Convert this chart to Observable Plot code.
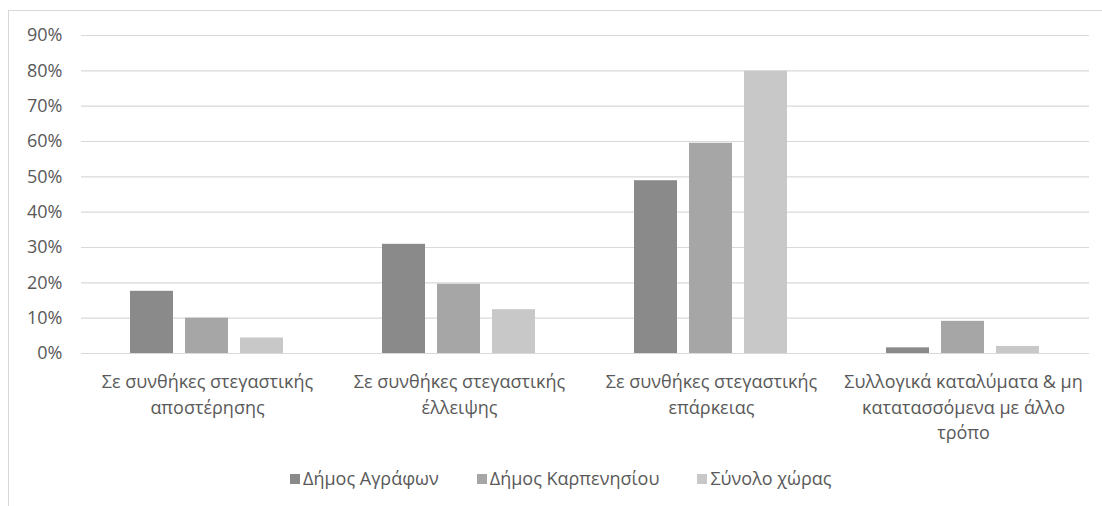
<!DOCTYPE html>
<html><head><meta charset="utf-8">
<script src="https://cdn.jsdelivr.net/npm/d3@7"></script>
<script src="https://cdn.jsdelivr.net/npm/@observablehq/plot@0.6"></script>
<style>
body{margin:0;background:#fff;width:1102px;height:506px;overflow:hidden;position:relative;font-family:"Open Sans","Noto Sans",sans-serif;color:#595959}
#frame{position:absolute;left:8px;top:10px;width:1110px;height:510px;border:1.5px solid #d9d9d9;box-sizing:border-box}
#chart{position:absolute;left:0;top:0}
#legend{position:absolute;left:290px;top:466px;font-size:18px;line-height:24px;display:flex;gap:38px;white-space:nowrap}
#legend span.sw{display:inline-block;width:10px;height:10px;margin-right:3px;vertical-align:1px}
</style></head>
<body>
<div id="frame"></div>
<div id="chart"></div>
<div id="legend"></div>
<script>
const categories = [
  "Σε συνθήκες στεγαστικής αποστέρησης",
  "Σε συνθήκες στεγαστικής έλλειψης",
  "Σε συνθήκες στεγαστικής επάρκειας",
  "Συλλογικά καταλύματα & μη κατατασσόμενα με άλλο τρόπο"
];
const categoryLines = [
  "Σε συνθήκες στεγαστικής\nαποστέρησης",
  "Σε συνθήκες στεγαστικής\nέλλειψης",
  "Σε συνθήκες στεγαστικής\nεπάρκειας",
  "Συλλογικά καταλύματα & μη\nκατατασσόμενα με άλλο\nτρόπο"
];
const series = ["Δήμος Αγράφων", "Δήμος Καρπενησίου", "Σύνολο χώρας"];
const agrafa = [0.176, 0.309, 0.489, 0.016];
const karpenisi = [0.100, 0.196, 0.595, 0.091];
const country = [0.044, 0.124, 0.799, 0.020];
const colors = ["#8a8a8a", "#a6a6a6", "#c8c8c8"];
const yTicks = [0, 0.1, 0.2, 0.3, 0.4, 0.5, 0.6, 0.7, 0.8, 0.9];

const values = [agrafa, karpenisi, country];
const data = [];
categories.forEach((c, i) => series.forEach((s, j) => data.push({category: c, series: s, value: values[j][i]})));
const labelMap = new Map(categories.map((c, i) => [c, categoryLines[i]]));

const chart = Plot.plot({
  width: 1102,
  height: 455,
  marginTop: 35,
  marginLeft: 80,
  marginRight: 12,
  marginBottom: 102,
  style: {fontFamily: '"Open Sans","Noto Sans",sans-serif', fontSize: "18px", color: "#595959", background: "transparent"},
  fx: {domain: categories, padding: 0, label: null},
  x: {domain: series, paddingInner: 0.214, paddingOuter: 0.86, axis: null},
  y: {domain: [0, 0.9], label: null},
  color: {domain: series, range: colors},
  marks: [
    Plot.ruleY(yTicks, {stroke: "#d9d9d9", strokeWidth: 1.2}),
    Plot.barY(data, {fx: "category", x: "series", y: "value", fill: "series"}),
    Plot.axisY(yTicks, {tickSize: 0, tickPadding: 19, tickFormat: d => Math.round(d * 100) + "%", fontSize: 18, label: null}),
    Plot.axisFx({anchor: "bottom", tickSize: 0, tickPadding: 17, tickFormat: d => labelMap.get(d), lineHeight: 1.4, fontSize: 18, label: null})
  ]
});
document.getElementById("chart").appendChild(chart);

const legend = document.getElementById("legend");
series.forEach((s, i) => {
  const item = document.createElement("div");
  item.innerHTML = `<span class="sw" style="background:${colors[i]}"></span>${s}`;
  legend.appendChild(item);
});
</script>
</body></html>
